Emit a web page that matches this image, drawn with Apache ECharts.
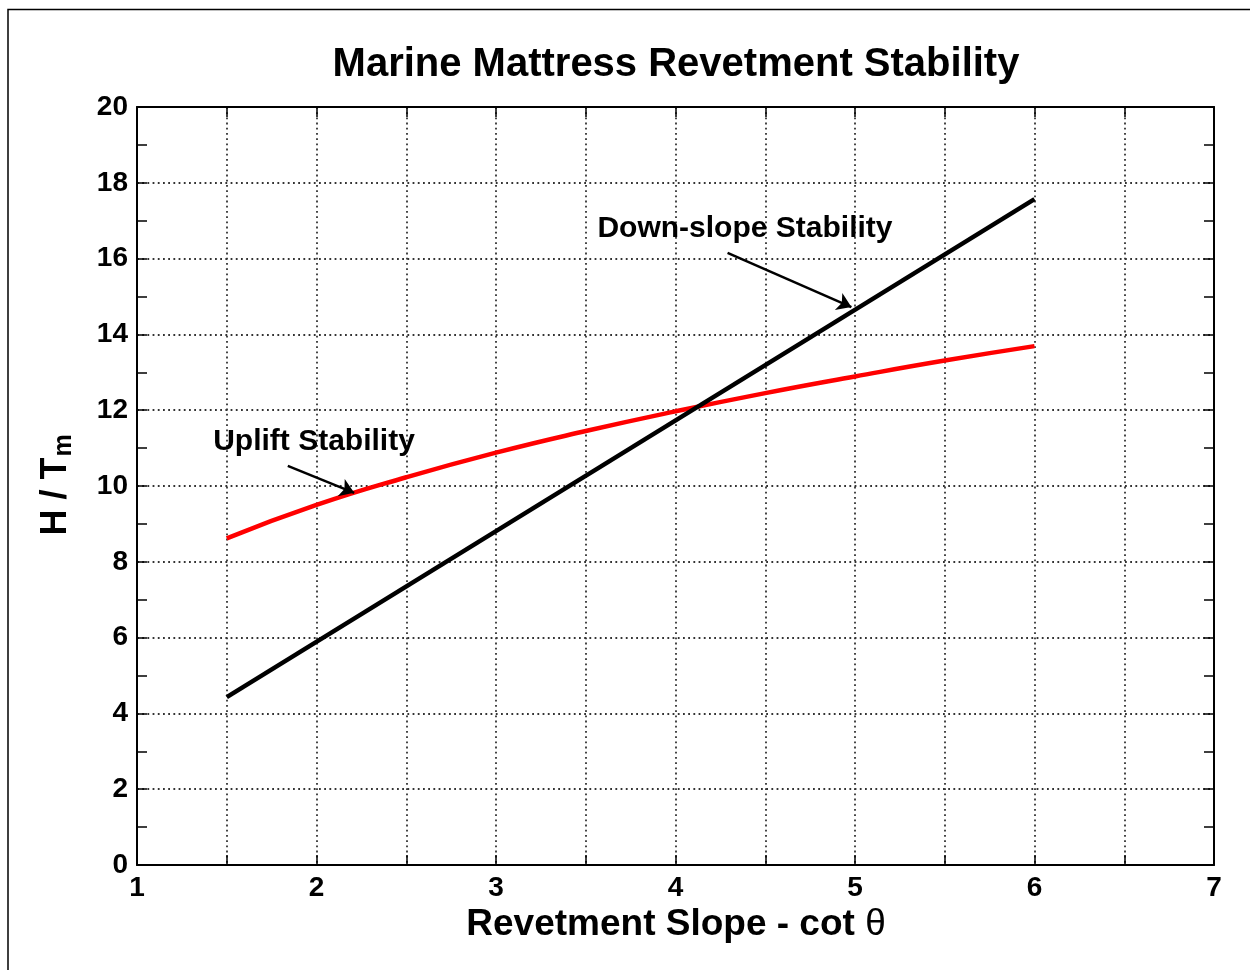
<!DOCTYPE html>
<html>
<head>
<meta charset="utf-8">
<script src="https://cdn.jsdelivr.net/npm/echarts@6/dist/echarts.min.js"></script>
<style>html,body{margin:0;padding:0;background:#fff;}#c{width:1250px;height:970px;}</style>
</head>
<body>
<div id="c"></div>
<script>
const slopeX = [1.5, 2, 2.5, 3, 3.5, 4, 4.5, 5, 5.5, 6];
const upliftY = [8.62, 9.50, 10.23, 10.88, 11.45, 11.97, 12.45, 12.89, 13.31, 13.69];
const downX = [1.5, 6];
const downY = [4.43, 17.57];
const xTicks = [1, 2, 3, 4, 5, 6, 7];
const yTicks = [0, 2, 4, 6, 8, 10, 12, 14, 16, 18, 20];
const titleText = 'Marine Mattress Revetment Stability';
const xNameMain = 'Revetment Slope - cot ';
const xNameSym = '\u03B8';
const downLabel = 'Down-slope Stability';
const upLabel = 'Uplift Stability';
const downArrow = [[4.29, 16.15], [4.98, 14.72]];
const upArrow = [[1.84, 10.53], [2.21, 9.82]];
const downLabelPos = [4.387, 16.78];
const upLabelPos = [1.986, 11.16];

const FONT = '"Liberation Sans", Arial, Helvetica, sans-serif';
const chart = echarts.init(document.getElementById('c'));
const dotted = {type: [1.8, 3.4], color: '#333', width: 1.8};

function xAxisCfg(pos, labels) {
  return {
    type: 'value', position: pos, min: 1, max: 7, interval: 0.5,
    axisLine: {show: true, onZero: false, lineStyle: {color: '#000', width: 2}},
    axisTick: {show: true, inside: true, length: 10, lineStyle: {color: '#000', width: 1.5}},
    axisLabel: labels ? {
      show: true, margin: 9, color: '#000', fontFamily: FONT, fontWeight: 'bold', fontSize: 28,
      formatter: v => xTicks.indexOf(v) >= 0 ? String(v) : ''
    } : {show: false},
    splitLine: {show: labels, lineStyle: dotted}
  };
}
function yAxisCfg(pos, labels) {
  return {
    type: 'value', position: pos, min: 0, max: 20, interval: 2,
    axisLine: {show: true, onZero: false, lineStyle: {color: '#000', width: 2}},
    axisTick: {show: true, inside: true, length: 10, lineStyle: {color: '#000', width: 1.5}},
    minorTick: {show: true, splitNumber: 2, length: 10, lineStyle: {color: '#000', width: 1.5}},
    axisLabel: labels ? {
      show: true, margin: 9, color: '#000', fontFamily: FONT, fontWeight: 'bold', fontSize: 28,
      formatter: v => yTicks.indexOf(v) >= 0 ? String(v) : ''
    } : {show: false},
    splitLine: {show: labels, lineStyle: dotted}
  };
}

chart.setOption({
  animation: false,
  backgroundColor: '#fff',
  title: {
    text: titleText, left: 671, top: 40, textAlign: 'center',
    textStyle: {fontFamily: FONT, fontWeight: 'bold', fontSize: 40, color: '#000'}
  },
  grid: {left: 137, right: 36, top: 107, bottom: 105, containLabel: false},
  xAxis: [xAxisCfg('bottom', true), xAxisCfg('top', false)],
  yAxis: [yAxisCfg('left', true), yAxisCfg('right', false)],
  graphic: [
    {type: 'rect', shape: {x: 8, y: 9.5, width: 1400, height: 1200}, style: {fill: 'none', stroke: '#000', lineWidth: 1.5}, silent: true, z: -1},
    {type: 'text', x: 676, y: 925, style: {
      text: '{b|' + xNameMain + '}{t|' + xNameSym + '}', textAlign: 'center', textVerticalAlign: 'middle',
      rich: {
        b: {fontFamily: FONT, fontWeight: 'bold', fontSize: 37, fill: '#000', color: '#000'},
        t: {fontFamily: FONT, fontWeight: 'normal', fontSize: 37, fill: '#000', color: '#000'}
      }
    }},
    {type: 'text', rotation: Math.PI / 2, x: 56, y: 485, style: {
      text: '{b|H / T}{s|m}', textAlign: 'center', textVerticalAlign: 'middle',
      rich: {
        b: {fontFamily: FONT, fontWeight: 'bold', fontSize: 36, fill: '#000', color: '#000'},
        s: {fontFamily: FONT, fontWeight: 'bold', fontSize: 25, fill: '#000', color: '#000', padding: [16, 0, 0, 1]}
      }
    }}
  ],
  series: [
    {
      type: 'line', name: 'Down-slope', xAxisIndex: 0, yAxisIndex: 0,
      data: downX.map((x, i) => [x, downY[i]]),
      showSymbol: false, lineStyle: {color: '#000', width: 4.5}, z: 3,
      markLine: {
        silent: true, symbol: ['none', 'arrow'], symbolSize: 14,
        lineStyle: {color: '#000', width: 2.5, type: 'solid'}, label: {show: false},
        data: [[{coord: downArrow[0]}, {coord: downArrow[1]}], [{coord: upArrow[0]}, {coord: upArrow[1]}]]
      },
      markPoint: {
        silent: true, symbol: 'circle', symbolSize: 0,
        label: {show: true, position: 'inside', color: '#000', fontFamily: FONT, fontWeight: 'bold', fontSize: 30, formatter: p => p.name},
        data: [{name: downLabel, coord: downLabelPos}, {name: upLabel, coord: upLabelPos}]
      }
    },
    {
      type: 'line', name: 'Uplift', xAxisIndex: 0, yAxisIndex: 0, smooth: true,
      data: slopeX.map((x, i) => [x, upliftY[i]]),
      showSymbol: false, lineStyle: {color: '#ff0000', width: 4.5}, z: 2
    }
  ]
});
</script>
</body>
</html>
